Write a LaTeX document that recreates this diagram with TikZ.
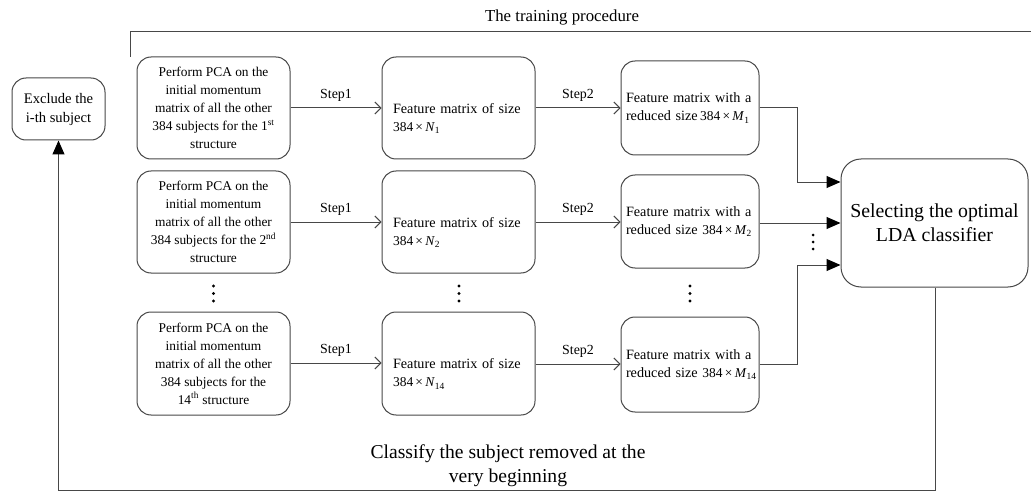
\documentclass[tikz,border=0pt]{standalone}
\usepackage{fontspec}
\setmainfont{Liberation Serif}
\usetikzlibrary{arrows.meta}
\begin{document}
\begin{tikzpicture}[x=1pt,y=-1pt,
  box/.style={draw=black!72, line width=1pt, rounded corners=14pt, inner sep=2pt},
  pcabox/.style={box, minimum width=153pt, minimum height=102pt, align=center, font=\fontsize{13.4}{18}\selectfont},
  featbox/.style={box, minimum width=153pt, minimum height=102pt, align=left, text width=131pt, font=\fontsize{14.2}{18}\selectfont},
  redbox/.style={box, minimum width=138pt, minimum height=94pt, align=left, text width=128pt, font=\fontsize{14.2}{18}\selectfont},
  steparrow/.style={draw=black!72, line width=1pt, -{Straight Barb[length=6pt,width=12pt]}},
  bigarrow/.style={draw=black!72, line width=1pt, -{Triangle[length=14pt,width=12pt,fill=black,color=black]}},
  plainline/.style={draw=black!72, line width=1pt},
  steplabel/.style={font=\fontsize{13.9}{15}\selectfont},
  dotmark/.style={fill=black}
]
\useasboundingbox (0,0) rectangle (1031,492);
\newcommand{\dimsz}[2]{{\fontsize{13.5}{14}\selectfont 384\,×\,\textit{#1}\textsubscript{#2}}}

% title
\node[font=\fontsize{16.8}{20}\selectfont] (title) at (562,17) {The training procedure};
\coordinate (tl) at (130,57);
\coordinate (tc) at (130,32);
\coordinate (tr) at (1031,32);
\draw[plainline] (tl) -- (tc) -- (tr);

% exclude
\node[box, minimum width=93pt, minimum height=62pt, align=center, font=\fontsize{14.6}{19}\selectfont] (ex) at (58.5,109) {Exclude the\\i-th subject};

% PCA boxes
\node[pcabox] (p1) at (213.5,108) {Perform PCA on the\\initial momentum\\matrix of all the other\\384 subjects for the 1\textsuperscript{st}\\structure};
\node[pcabox] (p2) at (213.5,222) {Perform PCA on the\\initial momentum\\matrix of all the other\\384 subjects for the 2\textsuperscript{nd}\\structure};
\node[pcabox, minimum height=103pt] (p3) at (213.5,363.5) {Perform PCA on the\\initial momentum\\matrix of all the other\\384 subjects for the\\14\textsuperscript{th} structure};

% feature boxes
\node[featbox] (f1) at (458.5,108) {\mbox{}\\[13pt]Feature matrix of size\\\dimsz{N}{1}};
\node[featbox] (f2) at (458.5,222) {\mbox{}\\[13pt]Feature matrix of size\\\dimsz{N}{2}};
\node[featbox, minimum height=103pt] (f3) at (458.5,363.5) {\mbox{}\\[13pt]Feature matrix of size\\\dimsz{N}{14}};

% reduced boxes
\node[redbox] (r1) at (690,108) {Feature matrix with a\\\mbox{reduced size\,\dimsz{M}{1}}};
\node[redbox, minimum height=93pt] (r2) at (690,221.5) {Feature matrix with a\\\mbox{reduced size \dimsz{M}{2}}};
\node[redbox, minimum height=95pt] (r3) at (690,364.5) {Feature matrix with a\\\mbox{reduced size \dimsz{M}{14}}};

% selecting
\node[box, rounded corners=20pt, minimum width=187pt, minimum height=128pt, align=center, font=\fontsize{19.8}{24}\selectfont] (sel) at (934.5,223) {Selecting the optimal\\LDA classifier};

% step arrows
\draw[steparrow] (p1.east |- 0,108) -- node[steplabel, above=3pt] (s11) {Step1} (f1.west |- 0,108);
\draw[steparrow] (p2.east |- 0,222) -- node[steplabel, above=3pt] (s12) {Step1} (f2.west |- 0,222);
\draw[steparrow] (p3.east |- 0,363) -- node[steplabel, above=3pt] (s13) {Step1} (f3.west |- 0,363);
\draw[steparrow] (f1.east |- 0,108) -- node[steplabel, above=3pt] (s21) {Step2} (r1.west |- 0,108);
\draw[steparrow] (f2.east |- 0,222) -- node[steplabel, above=3pt] (s22) {Step2} (r2.west |- 0,222);
\draw[steparrow] (f3.east |- 0,364) -- node[steplabel, above=3pt] (s23) {Step2} (r3.west |- 0,364);

% into selecting
\coordinate (b1) at (797,108);
\coordinate (b1d) at (797,182);
\coordinate (b3) at (797,364);
\coordinate (b3u) at (797,265);
\draw[bigarrow] (r1.east |- b1) -- (b1) -- (b1d) -- (sel.west |- b1d);
\draw[bigarrow] (r2.east |- 0,223) -- (sel.west |- 0,223);
\draw[bigarrow] (r3.east |- b3) -- (b3) -- (b3u) -- (sel.west |- b3u);

% feedback loop
\coordinate (lb1) at (935,490);
\coordinate (lb2) at (58.5,490);
\draw[bigarrow] (sel.south -| 935,0) -- (lb1) -- (lb2) -- (ex.south);
\node[align=center, font=\fontsize{19.6}{24}\selectfont] (cls) at (508,466) {Classify the subject removed at the\\very beginning};

% dots
\foreach \x in {213.5,459,690} {
  \foreach \y in {286,293.5,301} { \fill[dotmark] (\x,\y) circle (1.7pt); }
}
\foreach \y in {235,242,249} { \fill[dotmark] (813,\y) circle (1.5pt); }
\end{tikzpicture}
\end{document}
